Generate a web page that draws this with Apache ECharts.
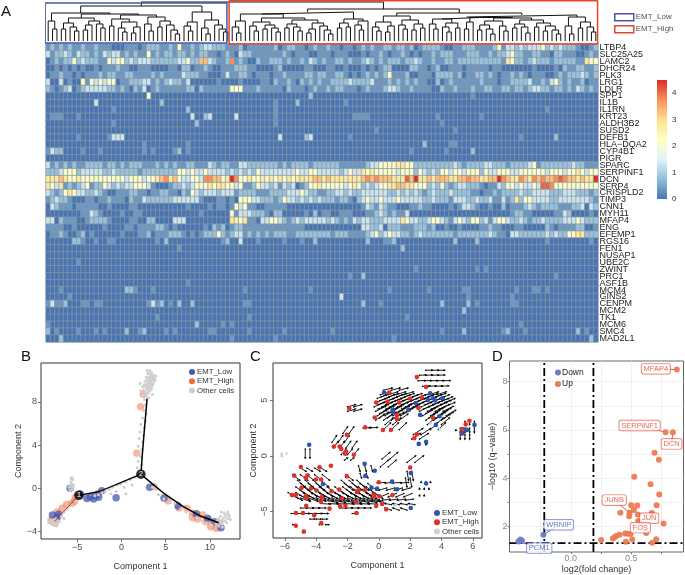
<!DOCTYPE html>
<html><head><meta charset="utf-8">
<style>html,body{margin:0;padding:0;background:#fff}#c{width:685px;height:575px}</style>
<script src="https://cdn.jsdelivr.net/npm/echarts@6/dist/echarts.min.js"></script>
</head><body><div id="c"></div>
<script>
const genes=["LTBP4","SLC25A25","LAMC2","DHCR24","PLK3","LRG1","LDLR","SPP1","IL1B","IL1RN","KRT23","ALDH3B2","SUSD2","DEFB1","HLA−DQA2","CYP4B1","PIGR","SPARC","SERPINF1","DCN","SFRP4","CRISPLD2","TIMP3","CNN1","MYH11","MFAP4","ENG","EFEMP1","RGS16","FEN1","NUSAP1","UBE2C","ZWINT","PRC1","ASF1B","MCM4","GINS2","CENPM","MCM2","TK1","MCM6","SMC4","MAD2L1"];
// one digit per cell, an expression level read by eye; levelValues gives the value of each digit
const levelValues=[0,.35,.8,1.3,2.1,2.8,3.3,3.75,4.1,4.5];
const heatRows=[
"121212112 112111000 111012221 121411212 332221112 011111120 122110121 121101101 212112212 212012222 100112221 111241332 323334232 322210012",
"312232132 212132331 212114121 221221212 211012103 221111111 210111001 110111000 101121011 210101121 222111222 112122342 211221102 211100121",
"012122423 222114344 232333222 222334226 632112712 100211222 121121321 211221211 232121222 122321121 122122222 222221542 212322212 222211544",
"001010101 001011121 100111000 011022011 210011122 211000012 000001100 011001000 101012200 002211012 001110111 110110000 000100001 021122112",
"011211010 111212211 221111212 111132221 100013112 210111011 211112212 211221010 121212411 120011102 222120112 212101121 210111001 212223212",
"300301004 143434401 122233121 232213000 000100001 000011021 121021212 112222322 223111212 121211002 012111111 211101122 223112134 212112011",
"210123012 333332212 102130121 111112202 111111444 111211111 021110121 121221110 121112332 112111100 211211121 122112212 212332212 212132121",
"000000000 000000000 000004000 000000000 000000000 000000000 000000200 000000000 000000000 000000000 000000010 000000000 000000000 000000000",
"000000000 003000000 000000002 000000000 000000000 000000010 000200000 000001000 000000000 000000000 000000000 000000000 000000000 000000000",
"000000000 000000100 000000000 000002000 000000000 000000010 000000000 000000000 000000000 000000000 000000000 000000000 000000100 000000000",
"011100010 000000000 000000000 000000300 230000030 000000010 000000000 000000011 110000000 000000001 000000000 100000000 000000000 000000000",
"000000000 000000100 000000000 000000020 000000000 000000010 000000000 000000000 000000000 000000000 100000000 000000000 000000000 000000000",
"000000000 000000000 000000000 000000000 000000000 000000000 000000000 000000000 000100000 000000000 000100000 000000000 000000000 000000000",
"000000010 000001333 000000000 000000000 000000000 000000003 000002300 000000100 000000000 000000000 000000000 000000000 100000002 000000000",
"000000000 000000000 000010000 000001000 000000000 000000000 000000000 000000000 000000000 000002000 001100000 000000000 000000000 000000000",
"132200001 000100000 000010100 001201000 000000000 000000000 000000000 000000000 000000000 001000000 010000020 000000000 000000000 000000000",
"000000000 000000000 000000000 000000000 000000000 000000000 000000000 000000000 000000000 000000000 000000000 000000000 000000000 000000000",
"312121211 222212212 122211121 212112211 132122113 322222221 212222122 222211111 123344445 544222222 222321222 233222122 223412222 222322111",
"222344423 333322322 222122222 222443433 433332323 232433333 333433443 333323433 545444443 444243232 443443444 243344433 444444344 434454344",
"555654454 444444444 344434456 756433443 776645974 454454545 454555566 565555555 676766655 586955656 665566766 556697655 765767667 876656559",
"543512123 412243232 334443100 012232344 454554434 112433231 323012445 444443454 232344556 655444232 421233222 101132443 433438874 444444444",
"321245433 223210011 122110112 211021432 333233312 222111222 233343221 122332322 333333223 232321232 223222211 011212222 322333322 233322212",
"123221000 110112111 021132222 223333331 000110104 443322212 433232323 222122102 343343334 333332232 221333223 223113125 244333322 333333321",
"032111011 111001000 011000000 000001000 010110143 411001111 100000000 000000000 132132110 001121100 001013321 001002011 123212222 111223032",
"000000001 132100001 001100000 000000001 000000413 332221022 000001020 110011100 011232121 130000000 000000000 000000012 211000001 132000010",
"330211100 122221000 011002200 003330000 000000554 511033443 212323333 323212132 332223333 543322344 321343244 231344322 321223222 233343222",
"111100100 000010000 110111122 101000000 102120122 111111111 111110000 000000000 332230222 111222120 010010000 112110001 100000210 111122001",
"011210012 010000001 000112011 122210101 222421233 121212122 211222222 221222111 123423433 221232222 222122222 223211033 222222323 224455222",
"000000221 001001100 000000010 200000000 000012003 000100000 100010020 000000000 020001120 000000000 000200002 000000000 000000100 000000010",
"000000000 000000000 000000000 000100000 000000000 000000000 000000000 000000000 000000000 200000000 000000000 000000000 000000000 000000000",
"000000000 000000000 000000000 000000000 000000000 000000000 000000000 000000000 000000000 000000000 000000000 000000000 000000000 000000000",
"000000010 000000000 000000000 000000000 000000000 000000000 000000000 000000000 000000000 000000000 000000000 000000000 000000000 000000000",
"000000000 000000000 000000000 000000000 000000000 000000000 000000000 000000000 000000000 000100000 000000001 010000000 000000000 000000000",
"000000000 000000000 000000000 000000000 000000000 000000000 000000000 000000100 200000000 000000000 000000000 000000000 000000001 000000000",
"000000000 000000000 000000000 000001000 000000000 000000000 000000000 000000000 000000000 000000000 000000000 000000000 000000000 000000000",
"000100000 000000000 221000100 000000000 000000000 100000000 000000100 000000000 000000100 000000100 000001100 000000001 000110100 000000000",
"000001000 000000000 000000000 000000000 000000000 000000000 000000000 000030000 000000000 000000000 000000100 000000010 000000000 000000000",
"131120001 101100000 000001312 010200200 000000000 110000000 000000000 000000000 200010000 000000000 200000201 000000011 000000000 000000000",
"000000000 000000000 000000000 000000000 000000000 000000000 000000000 000000000 000000000 000000000 000002000 000000000 000000000 000000000",
"000000000 000000000 000000010 000000000 000000000 010000000 000000000 000000000 000000000 010000000 000000000 000000000 000000000 000000000",
"100000000 000000000 000000000 000000020 000010100 000000000 000000000 000000000 000000000 000000000 000000000 000000000 100000000 000000000",
"201000010 001010000 200120000 101000000 011000000 010000000 100000000 001000000 000000000 000000000 100002000 000001200 010000000 000020100",
"000200000 000000000 000000000 000000000 000000100 000000010 000000000 000000000 000000010 000000000 000000000 000000000 000000000 000000020"
];
const lowTree=[35,[28,[20,0,[12,0,0]],[27,[23,[18,[12,0,0],[14,0,[10,0,0]]],[20,[16,[11,0,0],0],[17,0,[13,0,0]]]],[26,[22,[15,0,0],[19,[13,0,[9,0,0]],[14,[8,0,0],0]]],[24,[17,0,[10,0,0]],[20,[14,0,0],[16,0,[11,0,[7,0,0]]]]]]]],[29,[19,[15,0,[10,0,0]],0],[21,[13,0,[7,0,0]],[16,0,[12,0,[9,0,0]]]]]];
const highTree=[32,[29,[27,[20,[14,0,[8,0,0]],0],[23,[19,[15,0,[10,0,0]],[16,[12,0,0],[13,0,[9,0,0]]]],[21,[17,[13,0,0],[14,0,[10,0,0]]],[18,[12,[8,0,0],0],[15,0,[11,0,[7,0,0]]]]]]],[22,[18,[13,0,0],[14,0,0]],[20,[16,0,[11,0,0]],0]]],[28,[25,[19,[14,0,[10,0,0]],[15,[9,0,0],0]],[21,[16,0,[12,0,0]],[17,[11,0,0],[13,0,0]]]],[26,[24,[22,[17,0,[12,0,0]],[18,[14,0,[9,0,0]],[13,0,0]]],[23.5,[19,[12,0,0],0],[23,[20,[16,[11,0,0],[12,0,[7,0,0]]],[15,0,[10,0,0]]],[21,[17,[13,0,0],[14,0,[8,0,0]]],[18,[14,0,0],[15,[10,0,0],[11,0,[7,0,0]]]]]]]],[24,[15,0,[7,0,0]],[19,[13,0,0],[14,0,[9,0,0]]]]]]];
const rootHeight=39;
const lowBox=[-0.2,41.3,38,-2], highBox=[41.8,125.9,40.3,-3];

// panel B
const bLow=[-.6,-.87,3.18,.09,4.81,-.9,6.4,-1.64,8.48,-2.35,9.73,-2.78,10.5,-3.1,11.25,-3.65,-3.9,-.96,-3.14,-.99,-2.58,-.83,-2.23,-.22,-4.66,-.53,-5.8,0,-7.8,-2.47,-7.1,-2.4,-7.3,-2.72,-3.5,-.8,-2.9,-.7];
const bHigh=[2.46,8.7,2.16,7.55,1.74,3.25,3.67,.15,5.27,-1.18,6.5,-1.8,7.39,-1.86,8.03,-2.32,8.6,-2.85,9.17,-2.48,10.1,-3.56,11.06,-3.25,8.03,-2.7,9.55,-3.1,10.7,-3.7,-5,-.6,-5.6,-1.4,-6.2,-1.5,-6.7,-1.85,-7.2,-2.6,-7.95,-2.97,-7.5,-3.25,-2.6,-.46,-5.3,-1.2,-5.2,-.85,-7.3,-2.2,9.8,-2.9];
const bOther=[2.9,10.9,3.2,10.9,3.4,10.7,3,10.6,3.3,10.5,3.6,10.5,2.8,10.3,3.1,10.3,3.4,10.3,3.7,10.2,2.9,10.1,3.2,10,3.5,10,3.8,10,2.7,9.9,3,9.8,3.3,9.8,3.6,9.7,2.6,9.6,2.9,9.6,3.2,9.5,3.5,9.5,2.4,9.4,2.8,9.3,3.1,9.3,3.4,9.2,2.5,9.1,2.9,9.1,3.2,9,2.7,8.9,3,8.8,2.4,8.6,2.8,8.5,3.1,8.4,2.6,8.2,3.9,10.4,2.2,9,2.1,9.7,3.5,8.7,3.05,10.75,3.25,10.15,3.55,10.25,2.95,9.95,3.15,9.65,3.45,9.65,3.05,9.4,3.3,9.35,3,9.1,3.35,9.95,2.75,9.45,3.65,10,
2.7,7.7,2.5,7.2,2.8,6.9,2.4,6.5,2.7,6.2,2.2,5.9,2.6,5.6,2.1,5.2,2.5,4.9,2,4.6,2.4,4.3,1.9,3.9,2.3,3.6,1.8,3.2,2.2,2.9,1.9,2.5,2.3,2.2,1.8,1.9,2.1,1.6,2.4,1.5,
1.5,1,1,.8,.4,.6,-.1,.4,-.5,.3,-1,.1,-1.4,-.1,-1.8,-.3,-2.2,-.4,-2.6,-.6,-3,-.7,-1.2,-.5,-.6,-.3,.3,.1,1.2,.3,.5,-.5,
-5.8,.2,-5.6,.4,-5.7,.6,-5.5,.8,-5.7,.9,-5.6,1,-5.9,.1,-5.4,.3,-5.6,-.1,-5.8,-.2,-5.5,.1,-5.7,.3,
-7.9,-3,-7.6,-2.9,-7.4,-2.8,-7.7,-3.2,-7.4,-3.3,-7.2,-3,-7.9,-3.3,-7.6,-3.4,-7,-3.1,-7.3,-3.5,-6.8,-2.6,-6.5,-2.2,-6.1,-1.9,-5.7,-1.5,-5.2,-1.2,-8.2,-3.2,-6.5,-2.8,
10.8,-3,11,-2.8,11.2,-2.6,11.4,-2.9,11.6,-2.7,11.8,-2.5,12,-2.8,12.2,-2.6,11.1,-3.2,11.3,-3.3,11.5,-3.1,11.7,-3,11.9,-3.2,12.1,-2.4,11.6,-2.3,11.3,-2.2,11,-3.5,11.4,-3.6,10.7,-3.3,12.3,-2.9,12,-2.2,
3.5,.1,4.2,-.6,4.8,-1,5.5,-1.3,6,-1.4,6.7,-1.9,7.3,-2.2,7.8,-2.6,8.5,-2.7,9,-3,9.6,-3.2,10.2,-3.4,4,-.1,5,-.5,6.5,-1.3];
const bBranchUp=[2.2,1.3,2.35,3,2.55,5,2.9,8.3];
const bBranchRight=[2.2,1.3,3.5,.4,5,-.6,7,-1.7,9,-2.6,11,-3.2];
const bBranchMid=[2.2,1.3,0,.55,-2.5,-.3,-4.8,-.65];
const bBranchLeft=[-4.8,-.65,-6,-1.7,-7.5,-3];
const bNodes=[[-4.8,-.65,"1"],[2.2,1.3,"2"]];

// panel C
const cLow=[.34,5.69,.89,4.13,.89,3.97,1.89,4.13,2.36,4.73,2.64,3.68,3.13,5.03,3.28,5.63,3.45,5.18,3.6,4.97,4.06,5.18,3.87,3.56,3.64,2.78,6.11,2.78,5.62,2.33,5.34,2.04,2.55,1.07,3.02,1.25,-4.45,.99,-.91,-.72,-.26,-1.35,-.87,-1.82,-3.57,-2.54,2.04,-1.56,3.02,-2.49,.85,-2.33,-.47,-2.87,-.11,-2.96,1.17,-3.02,2.04,-4.7];
const cHigh=[2.43,7.08,3.02,6.19,.66,5.68,-.17,4.79,.55,4.85,1.3,4.79,2,5.15,2.74,5.24,-1.89,4.26,-.26,3.45,1.15,3.66,1.15,3.3,2.53,4.3,3.45,3.42,.26,2.32,.77,2.32,-.87,2.56,-2.04,1.88,2.43,1.93,2.26,1.58,5.34,2.41,5.55,2.83,5.79,3.15,5.3,2,-2.87,.83,-2.51,.83,-2.4,.62,-2.09,.39,-2.15,.18,-1.6,.09,-3.06,-.9,-4.98,-1.01,-3.79,-1.04,-5.4,-1.79,-4.66,-1.99,-4.55,-1.76,-4.02,-2.14,-3.68,-2.14,-2.04,-1.85,-4.94,-2.89,-4.34,-2.95,-3.98,-3.13,-3.02,-3.19,-2.53,-3.04,-1.3,-3.1,-1.4,-3.25,-5.55,-3.54,-5.3,-3.54,-4.66,-3.63,-4.6,-3.78,-3.64,-3.72,-3.7,-4.14,-2.36,-3.84,-1.47,-4.17,-.89,-3.1,-.34,-3.5,-.3,-3.65,.04,-3.65,.87,-3.54,0,-2.38,2,-1.05,-4.64,-4.5,-3.15,-4.76,-2.47,-4.55,-2.13,-4.49,-.17,-4.52,.21,-4.34,.47,-4.82,-5.3,-5.15,-4.85,-5.15,-4.13,-5.36,-3.68,-6.05,-1.43,-5.15,-5.3,-6.3,-4.79,-6.83];
const cOther=[-6.2,.1,-6.2,.2,-5.9,.2,-6.2,-.05,3.8,2.5,3.9,2.4,1.1,-4.4,1,-4.5,3.3,2.9];
// rows of arrows: [y, dx, dy, [x tails]]
const cArrowRows=[
[7.7,.4,0,[3,3.4,3.8]],[7.25,.4,.02,[2.6,3,3.4,3.8]],[6.75,.45,.02,[2.5,2.9,3.3,3.7,4.1]],[6.25,.45,.05,[2.8,3.2,3.6,4]],
[5.9,.55,.2,[.3,.8,1.3]],[5.5,.6,.25,[.1,.6,1.1,1.6,3.2,3.7]],[5.15,.6,.35,[-.1,.4,.9,1.4,1.9,2.4,2.9,3.4,3.9]],[4.8,.65,.35,[-.2,.3,.8,1.3,1.8,2.3,2.8,3.3,3.8,4.2]],[4.4,.65,.4,[-.3,.2,.7,1.2,1.7,2.2,2.7,3.2,3.7,4.2]],[4,.65,.45,[-.2,.3,.8,1.3,1.8,2.6,3.1,3.6,4.1]],[3.6,.6,.5,[-.1,.4,.9,1.4,2.8,3.3,3.8,4.3]],[3.2,.55,.55,[-.2,.3,.8,1.3,3,3.5,4]],[2.8,.5,.6,[.4,.9,3.1,3.6,4]],[2.35,.45,.6,[.3,.8,1.3,3.3,3.8]],[1.9,.6,.55,[2.2,2.7]],[1.5,.55,.5,[2.1,2.6]],[1,.08,.08,[2.5,3]],
[5.3,.6,.3,[.15,.65,1.15,1.65,2.15,2.65,3.15,3.65]],[4.95,.65,.35,[.05,.55,1.05,1.55,2.05,2.55,3.05,3.55,4.05]],[4.6,.65,.38,[-.05,.45,.95,1.45,1.95,2.45,2.95,3.45,3.95]],[4.2,.65,.42,[-.05,.45,.95,1.45,1.95,2.85,3.35,3.85]],[3.8,.6,.48,[.05,.55,1.05,1.55,3,3.5,4]],[3.4,.55,.52,[.05,.55,1.05,3.2,3.7,4.2]],
[4.4,.5,.2,[-2,-1.6]],[4,.5,.2,[-2,-1.6]],[2.5,.5,.05,[-1,-.6]],
[2,.3,.6,[-2.3,-1.9]],[1.2,.3,.6,[-3,-2.6,-2.2]],[.7,.3,.6,[-2.9,-2.5,-2.1,-1.7]],[.1,.3,.5,[-2.4,-2,-1.6]],[-.4,.2,.2,[-2.2,-1.8]],[.6,0,-.8,[-4.7,-4.4]],
[3.1,0,-.3,[5.5,5.8,6.1]],[2.5,0,-.4,[5.2,5.5,5.8,6.1]],[1.9,0,-.4,[5.2,5.5,5.8]],[2.3,.05,0,[4.9]],
[-1.1,.35,-.3,[-5,-4.6,-4.1,-3.7]],[-1.7,.45,-.5,[-5.5,-5,-4.6,-4.1,-3.6,-2.1]],[-2.2,.5,-.6,[-5.2,-4.7,-4.2,-3.7,-2.4,-1.9,-1.4]],[-2.8,.55,-.6,[-5.3,-4.8,-4.3,-3.8,-3.3,-2.8,-2.3,-1.8,-1.3,-.8]],[-3.3,.65,-.55,[-5.8,-5.3,-4.8,-4.3,-3.8,-3.3,-2.8,-2.3,-1.8,-1.3,-.8,-.4]],[-3.8,.6,-.3,[-5,-4.5,-4,-3.5,-3,-2.5,-2,-1.5,-1,-.5]],[-4.3,.6,-.05,[-3.7,-3.2,-2.7,-2.2,-1.7,-1.2,-.7]],[-4.7,.4,0,[-5,-4.6,-4.2,-3.8,-2.5,-2.1,-1.7,-1.3,-.9]],[-5.2,.35,0,[-5.6,-5.2,-4.8,-4.4,-4,-3.6,-1.7]],[-5.7,.3,0,[-4.4,-4,-3.6]],[-6.2,.2,0,[-5.5,-3.8,-3.4]],
[-2.5,.55,-.6,[-5,-4.5,-4,-2.2,-1.7,-1.2,-.7]],[-3.05,.6,-.6,[-5.05,-4.55,-4.05,-3.55,-3.05,-2.55,-2.05,-1.55,-1.05,-.55]],[-3.55,.65,-.45,[-5.55,-5.05,-4.55,-4.05,-3.55,-3.05,-2.55,-2.05,-1.55,-1.05,-.6]],[-4.05,.6,-.15,[-3.25,-2.75,-2.25,-1.75,-1.25,-.75,-.3]],
[-2.4,-.5,-.05,[.4,.9,1.4,1.9]],[-2.9,-.5,-.2,[.5,1,1.5,2]],[-3.4,-.5,-.3,[.6,1.1,1.6,2.1]],[-3.9,-.5,-.1,[.7,1.2,1.7,2.2]],[-4.4,-.4,.1,[.8,1.3,1.8,2.3]],[-4.9,-.4,.2,[.8,1.3,1.8]],
[-.3,.5,.6,[.2,.7]],[-1,.5,.6,[.1,.6]],[-.6,.55,.6,[1.8,2.3]],[-1.4,.1,-.8,[1.8,2.1]],[-2,.1,-.8,[1.7,2]],[-.9,.1,-.5,[-1.3,-.9,-.5]],[-1.6,.1,-.4,[-1.2,-.8]],
[-2.4,0,.05,[2.7,3,3.3]],[-3,0,.05,[2.6,2.9,3.2]],[-3.6,0,.05,[2.6,2.9]]
];

// panel D
const dUp=[.878,8.5,.845,5.9,.785,5.9,.693,5.05,.729,4.76,.525,4.06,.66,3.75,.732,3.32,.71,2.88,.5,2.88,.55,2.87,.522,2.68,.486,2.57,.41,2.57,.555,2.49,.671,2.56,.483,2.42,.558,2.22,.768,2.12,.624,1.73,.45,1.71,.472,1.7,.494,1.69,.403,1.66,.376,1.6,.359,1.54,.348,1.5,.251,1.44,.508,1.46,.456,1.36,.707,1.47,.674,1.32];
const dDown=[-.227,1.65,-.417,1.46,-.434,1.38,-.405,1.41];
const dVLines=[-.22,.187], dHLine=1.31;
const dLabels=[["MFAP4",.704,8.53,.878,8.5,1],["SERPINF1",.569,6.18,.785,5.9,1],["DCN",.834,5.42,.845,5.9,1],["JUNB",.359,3.09,.486,2.57,1],["JUN",.649,2.34,.558,2.22,1],["FOS",.575,1.95,.624,1.73,1],["WRNIP",-.1,2.07,-.227,1.65,0],["PCM1",-.262,1.1,-.434,1.38,0]];

const palette=['#4575B4','#91BFDB','#E0F3F8','#FFFFBF','#FEE090','#FC8D59','#D73027'];
const font='"Liberation Sans",Arial,sans-serif';
const pairs=a=>{const o=[];for(let i=0;i<a.length;i+=2)o.push([a[i],a[i+1]]);return o;};
const minus=v=>String(v).replace('-','−');

const nCols=126;
const heatData=[];
heatRows.forEach((r,ri)=>{const s=r.replace(/ /g,'');for(let c=0;c<nCols;c++){heatData.push([c,ri,levelValues[+(s[c]||0)]]);}});

const seg=[];let leaf=0;
function walk(t){
  if(t===0){return [leaf++ +0.5,0];}
  const a=walk(t[1]),b=walk(t[2]);
  seg.push([a[0],a[1]],[a[0],t[0]],[b[0],t[0]],[b[0],b[1]],[NaN,NaN]);
  return [(a[0]+b[0])/2,t[0]];
}
const la=walk(lowTree), lb=walk(highTree);
seg.push([la[0],la[1]],[la[0],rootHeight],[lb[0],rootHeight],[lb[0],lb[1]]);
const boxPath=b=>[[b[0],b[2]],[b[1],b[2]],[b[1],b[3]],[b[0],b[3]],[b[0],b[2]]];

const arrows=[];cArrowRows.forEach(r=>r[3].forEach(x=>arrows.push([x,r[0],r[1],r[2]])));
function arrowItem(p,api){
  const a=api.coord([api.value(0),api.value(1)]),b=api.coord([api.value(0)+api.value(2),api.value(1)+api.value(3)]);
  const ang=Math.atan2(b[1]-a[1],b[0]-a[0]),h=2.4,w=1.2;
  const c=Math.cos(ang),s=Math.sin(ang);
  return {type:'group',children:[
    {type:'line',shape:{x1:a[0],y1:a[1],x2:b[0],y2:b[1]},style:{stroke:'#000',lineWidth:.9}},
    {type:'polygon',shape:{points:[[b[0]+c*h*.6,b[1]+s*h*.6],[b[0]-c*h*.4-s*w,b[1]-s*h*.4+c*w],[b[0]-c*h*.4+s*w,b[1]-s*h*.4-c*w]]},style:{fill:'#000'}},
    {type:'circle',shape:{cx:a[0],cy:a[1],r:.8},style:{fill:'#000'}}
  ]};
}
const dLabelSeg=[];dLabels.forEach(l=>{dLabelSeg.push({c:l[5],p:[[l[1],l[2]],[l[3],l[4]]]});});
const axisTxt={fontFamily:font,fontSize:9,color:'#4d4d4d'};
const nameTxt={fontFamily:font,fontSize:9,color:'#333'};
const frame=(l,t,r,b,col)=>({left:l,top:t,width:r-l,height:b-t,show:true,borderColor:col||'#333',borderWidth:1,backgroundColor:'transparent',containLabel:false});
const valAxis=(o)=>({type:'value',min:o.min,max:o.max,gridIndex:o.g,scale:true,name:o.name,nameLocation:'middle',nameGap:o.gap,nameTextStyle:nameTxt,
  axisLine:{show:false,onZero:false},axisTick:{show:true,length:o.tl==null?3:o.tl,lineStyle:{color:'#555',width:.8},customValues:o.tickVals||o.ticks},
  axisLabel:Object.assign({},axisTxt,{customValues:o.ticks,formatter:minus,margin:o.margin||4,rotate:o.rotate||0},o.lab||{}),
  splitLine:o.split?{show:true,lineStyle:{color:'#ececec',width:.8}}:{show:false}});
const scatter=(name,data,g,size,color,op,extra)=>Object.assign({type:'scatter',name,data,xAxisIndex:g,yAxisIndex:g,symbolSize:size,itemStyle:{color,opacity:op},silent:true,animation:false},extra||{});
const trunk=(data,g,w,col)=>({type:'line',data,xAxisIndex:g,yAxisIndex:g,showSymbol:false,smooth:false,lineStyle:{color:col||'#000',width:w},silent:true,animation:false,z:4});

const series=[
 {type:'heatmap',data:heatData,xAxisIndex:0,yAxisIndex:0,progressive:0,silent:true,animation:false,itemStyle:{borderColor:'#90959c',borderWidth:.7}},
 {type:'line',data:seg,xAxisIndex:1,yAxisIndex:1,showSymbol:false,connectNulls:false,lineStyle:{color:'#111',width:1},silent:true,animation:false},
 {type:'line',name:'boxLow',data:boxPath(lowBox),xAxisIndex:1,yAxisIndex:1,showSymbol:false,clip:false,lineStyle:{color:'#4a55a8',width:1.5},silent:true,animation:false},
 {type:'line',name:'boxHigh',data:boxPath(highBox),xAxisIndex:1,yAxisIndex:1,showSymbol:false,clip:false,lineStyle:{color:'#e8432d',width:1.5},silent:true,animation:false},
 {type:'bar',data:[4.5],xAxisIndex:2,yAxisIndex:2,barWidth:'100%',silent:true,animation:false,itemStyle:{color:new echarts.graphic.LinearGradient(0,0,0,1,palette.slice().reverse().map((c,i)=>({offset:i/6,color:c})))}},
 scatter('EMT_High',pairs(bHigh),3,7.5,'#ee7a52',.55),
 scatter('EMT_Low',pairs(bLow),3,7.5,'#4a58b0',.75),
 scatter('Other cells',pairs(bOther),3,3,'#cfcfcf',1),
 trunk(pairs(bBranchUp),3,1.5),trunk(pairs(bBranchRight),3,1.5),trunk(pairs(bBranchMid),3,1.3),trunk(pairs(bBranchLeft),3,.8,'#7a2a1a'),
 {type:'scatter',data:bNodes.map(n=>({value:[n[0],n[1]],name:n[2]})),xAxisIndex:3,yAxisIndex:3,symbolSize:9.5,itemStyle:{color:'#000'},z:5,silent:true,animation:false,
  label:{show:true,position:'inside',formatter:'{b}',color:'#fff',fontSize:7,fontFamily:font,fontWeight:'bold'}},
 {type:'custom',data:arrows,xAxisIndex:4,yAxisIndex:4,renderItem:arrowItem,encode:{x:0,y:1},silent:true,animation:false},
 scatter('EMT_High',pairs(cHigh),4,4.6,'#e0322c',1,{z:3}),
 scatter('EMT_Low',pairs(cLow),4,4.6,'#2a55b0',1,{z:3}),
 scatter('Other cells',pairs(cOther),4,2.5,'#cfcfcf',1),
 {type:'line',data:[[-.508,dHLine],[.933,dHLine]],xAxisIndex:5,yAxisIndex:5,showSymbol:false,lineStyle:{color:'#000',width:1.8,type:[8,3,2,3]},silent:true,animation:false},
 ...dVLines.map(v=>({type:'line',data:[[v,.94],[v,8.855]],xAxisIndex:5,yAxisIndex:5,showSymbol:false,lineStyle:{color:'#000',width:1.8,type:[8,3,2,3]},silent:true,animation:false})),
 ...dLabelSeg.map(s=>({type:'line',data:s.p,xAxisIndex:5,yAxisIndex:5,showSymbol:false,lineStyle:{color:s.c?'#e0322c':'#2a3f9f',width:.8},silent:true,animation:false,z:3})),
 scatter('Up',pairs(dUp),5,6,'#ee7a52',.95,{z:4}),
 scatter('Down',pairs(dDown),5,6,'#6d7cc4',.95,{z:4}),
 {type:'scatter',data:dLabels.map(l=>({name:l[0],value:[l[1],l[2]],label:{color:l[5]?'#e0472f':'#3f56b0',borderColor:l[5]?'#e0472f':'#4f66c0'}})),xAxisIndex:5,yAxisIndex:5,symbolSize:1,itemStyle:{color:'transparent'},z:6,silent:true,animation:false,
  label:{show:true,position:'inside',formatter:'{b}',fontSize:7.5,fontFamily:font,backgroundColor:'#fff',borderWidth:.7,borderRadius:2,padding:[1,2,1,2]}}
];
const grids=[
 {left:46,top:44,width:552,height:298},
 {left:46,top:0,width:552,height:44},
 {left:657,top:80,width:10,height:119},
 frame(41,363,240,539),
 frame(273,363,482,538),
 frame(509.5,361,683.5,555,'#666')
];
const xAxis=[
 {type:'category',gridIndex:0,data:Array.from({length:nCols},(_,i)=>i),show:false},
 {type:'value',gridIndex:1,min:0,max:nCols,show:false},
 {type:'category',gridIndex:2,data:[''],show:false},
 valAxis({g:3,min:-9.09,max:13.4,ticks:[-5,0,5,10],name:'Component 1',gap:23}),
 valAxis({g:4,min:-6.76,max:6.59,ticks:[-6,-4,-2,0,2,4,6],name:'Component 1',gap:23}),
 valAxis({g:5,min:-.508,max:.933,ticks:[0,.5],tickVals:[-.25,0,.25,.5,.75],name:'log2(fold change)',gap:13,split:true,tl:2,margin:2,lab:{color:'#888',formatter:v=>v.toFixed(1)}})
];
const yAxis=[
 {type:'category',gridIndex:0,data:genes,inverse:true,position:'right',axisLine:{show:false},axisTick:{show:false},axisLabel:{interval:0,fontSize:9,fontFamily:font,color:'#222',margin:1.5},splitLine:{show:false}},
 {type:'value',gridIndex:1,min:-3,max:41,show:false},
 {type:'value',gridIndex:2,min:0,max:4.5,position:'right',axisLine:{show:false},axisTick:{show:false,customValues:[0,1,2,3,4]},splitLine:{show:false},axisLabel:{customValues:[0,1,2,3,4],fontSize:8,fontFamily:font,color:'#333',margin:5}},
 valAxis({g:3,min:-4.7,max:11.6,ticks:[-4,0,4,8],name:'Component 2',gap:15}),
 valAxis({g:4,min:-7.4,max:8.35,ticks:[-5,0,5],name:'Component 2',gap:15,rotate:90}),
 valAxis({g:5,min:.94,max:8.855,ticks:[2,4,6,8],tickVals:[2,3,4,5,6,7,8],name:'−log10 (q−value)',gap:12,split:true,tl:2,margin:2,lab:{color:'#888'}})
];
const legendBase={orient:'vertical',selectedMode:false,padding:0,textStyle:{fontFamily:font,fontSize:7.8,color:'#333',padding:[0,0,0,-3]}};
const dotItem=(name,color)=>({name,icon:'circle',itemStyle:{color,opacity:1,borderWidth:0}});
const legends=[
 Object.assign({},legendBase,{left:614,top:13,itemWidth:19,itemHeight:7,itemGap:3.5,textStyle:{fontFamily:font,fontSize:8,color:'#555',padding:[0,0,0,-3]},
   data:[{name:'EMT_Low',icon:'rect',itemStyle:{color:'#fff',opacity:1,borderColor:'#4a55a8',borderWidth:1.5}},{name:'EMT_High',icon:'rect',itemStyle:{color:'#fff',opacity:1,borderColor:'#e8432d',borderWidth:1.5}}]}),
 Object.assign({},legendBase,{left:189,top:368,itemWidth:6,itemHeight:6,itemGap:1.2,data:[dotItem('EMT_Low','#4a58b0'),dotItem('EMT_High','#ee6a42'),dotItem('Other cells','#cfcfcf')]}),
 Object.assign({},legendBase,{left:434,top:509,itemWidth:6,itemHeight:6,itemGap:1.2,data:[dotItem('EMT_Low','#2a55b0'),dotItem('EMT_High','#e0322c'),dotItem('Other cells','#cfcfcf')]}),
 Object.assign({},legendBase,{left:555,top:368,itemWidth:6,itemHeight:6,itemGap:2.5,textStyle:{fontFamily:font,fontSize:8.5,color:'#222',padding:[0,0,0,-4]},data:[dotItem('Down','#6d7cc4'),dotItem('Up','#ee7a52')]})
];
const letter=(t,l,tp)=>({text:t,left:l,top:tp,padding:0,textStyle:{fontFamily:font,fontSize:15,fontWeight:'normal',color:'#111'}});
const chart=echarts.init(document.getElementById('c'),null,{renderer:'canvas',width:685,height:575});
chart.setOption({animation:false,backgroundColor:'#fff',
 title:[letter('A',1,4),letter('B',21,349),letter('C',250,349),letter('D',492,349)],
 visualMap:[{show:false,type:'continuous',min:0,max:4.5,seriesIndex:0,dimension:2,inRange:{color:palette}}],
 legend:legends,grid:grids,xAxis,yAxis,series});
</script></body></html>
